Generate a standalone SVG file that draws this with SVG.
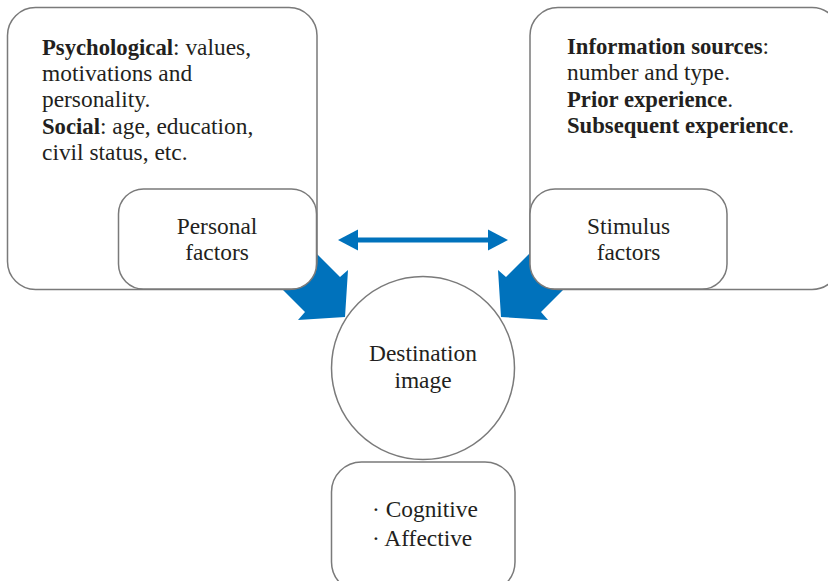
<svg xmlns="http://www.w3.org/2000/svg" width="828" height="581" viewBox="0 0 828 581">
  <style>
    .box { fill: #ffffff; stroke: #7a7a7a; stroke-width: 1.5; }
    .txt { font-family: "Liberation Serif", "DejaVu Serif", serif; font-size: 23.4px; fill: #231f20; }
    .b { font-weight: bold; font-size: 22.7px; }
    .mid { text-anchor: middle; }
    .flow { fill: #0072bc; }
  </style>
  <defs>
    <!-- broad arrow pointing down-right into the central circle -->
    <polygon id="bigArrow" points="290,227 340,277 348,270 345,317 298,320 305,312 260,267"/>
  </defs>

  <!-- connectors (drawn first so boxes sit on top of the arrow tails) -->
  <g id="connectors" class="flow">
    <use href="#bigArrow"/>
    <use href="#bigArrow" transform="translate(846,0) scale(-1,1)"/>
    <rect x="355" y="237.5" width="136" height="5"/>
    <polygon points="338,240 358,229.5 358,250.5"/>
    <polygon points="508,240 488,229.5 488,250.5"/>
  </g>

  <g id="personal-details">
    <rect class="box" x="7.5" y="7.5" width="309.5" height="282" rx="28"/>
    <text class="txt" x="42" y="55"><tspan class="b">Psychological</tspan>: values,</text>
    <text class="txt" x="42" y="81">motivations and</text>
    <text class="txt" x="42" y="107">personality.</text>
    <text class="txt" x="42" y="134"><tspan class="b">Social</tspan>: age, education,</text>
    <text class="txt" x="42" y="160">civil status, etc.</text>
  </g>

  <g id="personal-factors">
    <rect class="box" x="118.5" y="189" width="198" height="100" rx="25"/>
    <text class="txt mid" x="217" y="234">Personal</text>
    <text class="txt mid" x="217" y="260">factors</text>
  </g>

  <g id="stimulus-details">
    <rect class="box" x="530" y="7.5" width="310" height="282" rx="28"/>
    <text class="txt" x="567" y="54"><tspan class="b">Information sources</tspan>:</text>
    <text class="txt" x="567" y="80">number and type.</text>
    <text class="txt" x="567" y="107"><tspan class="b">Prior experience</tspan>.</text>
    <text class="txt" x="567" y="133"><tspan class="b">Subsequent experience</tspan>.</text>
  </g>

  <g id="stimulus-factors">
    <rect class="box" x="530" y="189" width="197" height="100" rx="25"/>
    <text class="txt mid" x="628.5" y="234">Stimulus</text>
    <text class="txt mid" x="628.5" y="260">factors</text>
  </g>

  <g id="destination-image">
    <circle cx="423" cy="368" r="91.5" fill="none" stroke="#7a7a7a" stroke-width="1.5"/>
    <text class="txt mid" x="423" y="361">Destination</text>
    <text class="txt mid" x="423" y="388">image</text>
  </g>

  <g id="image-components">
    <rect class="box" x="331.5" y="462" width="183.5" height="130" rx="30"/>
    <text class="txt" x="372" y="517">· Cognitive</text>
    <text class="txt" x="372" y="546">· Affective</text>
  </g>
</svg>
